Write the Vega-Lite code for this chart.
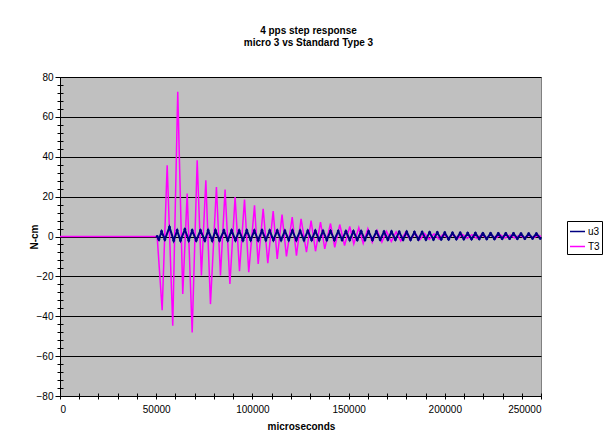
{
  "$schema": "https://vega.github.io/schema/vega-lite/v6.json",
  "width": 481,
  "height": 319,
  "autosize": {"type": "none"},
  "padding": {"left": 60, "top": 77, "right": 68, "bottom": 43},
  "background": "white",
  "title": {"text": ["4 pps step response", "micro 3 vs Standard Type 3"], "fontSize": 10, "fontWeight": "bold", "font": "Liberation Sans", "anchor": "middle", "dx": 8, "offset": 14, "baseline": "bottom", "lineHeight": 12, "color": "black"},
  "config": {
    "font": "Liberation Sans",
    "view": {"fill": "#C0C0C0", "stroke": "#808080"},
    "axis": {"labelFont": "Liberation Sans", "titleFont": "Liberation Sans", "labelFontSize": 10, "titleFontSize": 10, "titleFontWeight": "bold", "labelColor": "black", "titleColor": "black", "domainColor": "black", "tickColor": "black"}
  },
  "data": {"values": [
    {"t": 0, "s": "T3", "v": 0},
    {"t": 50500, "s": "T3", "v": 0},
    {"t": 53100, "s": "T3", "v": -37},
    {"t": 55700, "s": "T3", "v": 35.7},
    {"t": 58600, "s": "T3", "v": -44.8},
    {"t": 61200, "s": "T3", "v": 72.6},
    {"t": 63800, "s": "T3", "v": -28.8},
    {"t": 66100, "s": "T3", "v": 21.5},
    {"t": 68700, "s": "T3", "v": -48.1},
    {"t": 71300, "s": "T3", "v": 38.2},
    {"t": 73500, "s": "T3", "v": -19.6},
    {"t": 75800, "s": "T3", "v": 28.2},
    {"t": 78200, "s": "T3", "v": -33.9},
    {"t": 81300, "s": "T3", "v": 24.8},
    {"t": 83400, "s": "T3", "v": -19.6},
    {"t": 85800, "s": "T3", "v": 23.5},
    {"t": 88300, "s": "T3", "v": -23.8},
    {"t": 91000, "s": "T3", "v": 19.8},
    {"t": 93300, "s": "T3", "v": -17.4},
    {"t": 95900, "s": "T3", "v": 18.5},
    {"t": 98100, "s": "T3", "v": -17.9},
    {"t": 101100, "s": "T3", "v": 15.6},
    {"t": 103000, "s": "T3", "v": -13.8},
    {"t": 105600, "s": "T3", "v": 13.9},
    {"t": 108000, "s": "T3", "v": -13.4},
    {"t": 110800, "s": "T3", "v": 12.7},
    {"t": 112900, "s": "T3", "v": -11.2},
    {"t": 115400, "s": "T3", "v": 11.0},
    {"t": 117700, "s": "T3", "v": -10.0},
    {"t": 120700, "s": "T3", "v": 9.7},
    {"t": 122900, "s": "T3", "v": -9.6},
    {"t": 125300, "s": "T3", "v": 8.9},
    {"t": 128100, "s": "T3", "v": -7.9},
    {"t": 130500, "s": "T3", "v": 8.0},
    {"t": 132800, "s": "T3", "v": -7.4},
    {"t": 135400, "s": "T3", "v": 7.2},
    {"t": 137600, "s": "T3", "v": -6.2},
    {"t": 140600, "s": "T3", "v": 6.5},
    {"t": 142800, "s": "T3", "v": -5.4},
    {"t": 145400, "s": "T3", "v": 6.0},
    {"t": 147900, "s": "T3", "v": -4.5},
    {"t": 150600, "s": "T3", "v": 5.0},
    {"t": 152700, "s": "T3", "v": -3.7},
    {"t": 155300, "s": "T3", "v": 4.4},
    {"t": 157600, "s": "T3", "v": -3.4},
    {"t": 160000, "s": "T3", "v": 3.9},
    {"t": 162300, "s": "T3", "v": -2.9},
    {"t": 164800, "s": "T3", "v": 3.0},
    {"t": 167300, "s": "T3", "v": -2.8},
    {"t": 169700, "s": "T3", "v": 2.6},
    {"t": 172200, "s": "T3", "v": -2.5},
    {"t": 174700, "s": "T3", "v": 2.3},
    {"t": 177100, "s": "T3", "v": -2.2},
    {"t": 179600, "s": "T3", "v": 2.0},
    {"t": 182100, "s": "T3", "v": -1.8},
    {"t": 184500, "s": "T3", "v": 1.7},
    {"t": 187000, "s": "T3", "v": -1.6},
    {"t": 189500, "s": "T3", "v": 1.5},
    {"t": 191900, "s": "T3", "v": -1.4},
    {"t": 194400, "s": "T3", "v": 1.3},
    {"t": 196900, "s": "T3", "v": -1.2},
    {"t": 199300, "s": "T3", "v": 1.2},
    {"t": 201800, "s": "T3", "v": -1.1},
    {"t": 204300, "s": "T3", "v": 1.1},
    {"t": 206700, "s": "T3", "v": -1.0},
    {"t": 209200, "s": "T3", "v": 1.0},
    {"t": 211700, "s": "T3", "v": -0.9},
    {"t": 214100, "s": "T3", "v": 0.9},
    {"t": 216600, "s": "T3", "v": -0.9},
    {"t": 219100, "s": "T3", "v": 0.9},
    {"t": 221500, "s": "T3", "v": -0.8},
    {"t": 224000, "s": "T3", "v": 0.8},
    {"t": 226500, "s": "T3", "v": -0.8},
    {"t": 228900, "s": "T3", "v": 0.8},
    {"t": 231400, "s": "T3", "v": -0.7},
    {"t": 233900, "s": "T3", "v": 0.7},
    {"t": 236300, "s": "T3", "v": -0.7},
    {"t": 238800, "s": "T3", "v": 0.7},
    {"t": 241300, "s": "T3", "v": -0.7},
    {"t": 243700, "s": "T3", "v": 0.6},
    {"t": 246200, "s": "T3", "v": -0.6},
    {"t": 248700, "s": "T3", "v": 0.6},
    {"t": 250000, "s": "T3", "v": 0},
    {"t": 50500, "s": "u3", "v": 0},
    {"t": 51400, "s": "u3", "v": -1.5},
    {"t": 52800, "s": "u3", "v": 2.5},
    {"t": 54500, "s": "u3", "v": -1.5},
    {"t": 56900, "s": "u3", "v": 4.7},
    {"t": 59100, "s": "u3", "v": -2.0},
    {"t": 60900, "s": "u3", "v": 3.0},
    {"t": 62600, "s": "u3", "v": -2.0},
    {"t": 64900, "s": "u3", "v": 3.5},
    {"t": 66900, "s": "u3", "v": -2.0},
    {"t": 68700, "s": "u3", "v": 3.0},
    {"t": 70800, "s": "u3", "v": -2.0},
    {"t": 73000, "s": "u3", "v": 3.0},
    {"t": 75300, "s": "u3", "v": -2.0},
    {"t": 77000, "s": "u3", "v": 3.0},
    {"t": 79100, "s": "u3", "v": -2.0},
    {"t": 80800, "s": "u3", "v": 3.0},
    {"t": 82900, "s": "u3", "v": -2.0},
    {"t": 85200, "s": "u3", "v": 3.0},
    {"t": 87200, "s": "u3", "v": -1.9},
    {"t": 89200, "s": "u3", "v": 3.0},
    {"t": 91200, "s": "u3", "v": -1.9},
    {"t": 93100, "s": "u3", "v": 2.9},
    {"t": 95100, "s": "u3", "v": -1.9},
    {"t": 97100, "s": "u3", "v": 3.0},
    {"t": 99100, "s": "u3", "v": -1.8},
    {"t": 101000, "s": "u3", "v": 2.9},
    {"t": 103000, "s": "u3", "v": -1.9},
    {"t": 105000, "s": "u3", "v": 3.0},
    {"t": 107000, "s": "u3", "v": -1.8},
    {"t": 109000, "s": "u3", "v": 2.9},
    {"t": 110900, "s": "u3", "v": -1.8},
    {"t": 112900, "s": "u3", "v": 2.9},
    {"t": 114900, "s": "u3", "v": -1.8},
    {"t": 116900, "s": "u3", "v": 2.8},
    {"t": 118900, "s": "u3", "v": -1.8},
    {"t": 120800, "s": "u3", "v": 2.9},
    {"t": 122800, "s": "u3", "v": -1.8},
    {"t": 124800, "s": "u3", "v": 2.8},
    {"t": 126800, "s": "u3", "v": -1.8},
    {"t": 128800, "s": "u3", "v": 2.8},
    {"t": 130800, "s": "u3", "v": -1.7},
    {"t": 132700, "s": "u3", "v": 2.8},
    {"t": 134700, "s": "u3", "v": -1.8},
    {"t": 136700, "s": "u3", "v": 2.7},
    {"t": 138700, "s": "u3", "v": -1.7},
    {"t": 140600, "s": "u3", "v": 2.7},
    {"t": 142600, "s": "u3", "v": -1.7},
    {"t": 144600, "s": "u3", "v": 2.7},
    {"t": 146600, "s": "u3", "v": -1.7},
    {"t": 148600, "s": "u3", "v": 2.6},
    {"t": 150600, "s": "u3", "v": -1.7},
    {"t": 152500, "s": "u3", "v": 2.6},
    {"t": 154500, "s": "u3", "v": -1.7},
    {"t": 156500, "s": "u3", "v": 2.6},
    {"t": 158500, "s": "u3", "v": -1.7},
    {"t": 160400, "s": "u3", "v": 2.5},
    {"t": 162400, "s": "u3", "v": -1.7},
    {"t": 164400, "s": "u3", "v": 2.5},
    {"t": 166400, "s": "u3", "v": -1.6},
    {"t": 168400, "s": "u3", "v": 2.4},
    {"t": 170400, "s": "u3", "v": -1.6},
    {"t": 172300, "s": "u3", "v": 2.4},
    {"t": 174300, "s": "u3", "v": -1.6},
    {"t": 176300, "s": "u3", "v": 2.3},
    {"t": 178300, "s": "u3", "v": -1.6},
    {"t": 180200, "s": "u3", "v": 2.3},
    {"t": 182200, "s": "u3", "v": -1.6},
    {"t": 184200, "s": "u3", "v": 2.2},
    {"t": 186200, "s": "u3", "v": -1.5},
    {"t": 188200, "s": "u3", "v": 2.2},
    {"t": 190200, "s": "u3", "v": -1.5},
    {"t": 192100, "s": "u3", "v": 2.1},
    {"t": 194100, "s": "u3", "v": -1.5},
    {"t": 196100, "s": "u3", "v": 2.0},
    {"t": 198100, "s": "u3", "v": -1.4},
    {"t": 200000, "s": "u3", "v": 1.9},
    {"t": 202000, "s": "u3", "v": -1.4},
    {"t": 204000, "s": "u3", "v": 1.8},
    {"t": 206000, "s": "u3", "v": -1.3},
    {"t": 208000, "s": "u3", "v": 1.8},
    {"t": 209900, "s": "u3", "v": -1.3},
    {"t": 211900, "s": "u3", "v": 1.7},
    {"t": 213900, "s": "u3", "v": -1.3},
    {"t": 215900, "s": "u3", "v": 1.7},
    {"t": 217900, "s": "u3", "v": -1.2},
    {"t": 219800, "s": "u3", "v": 1.6},
    {"t": 221800, "s": "u3", "v": -1.2},
    {"t": 223800, "s": "u3", "v": 1.6},
    {"t": 225800, "s": "u3", "v": -1.2},
    {"t": 227800, "s": "u3", "v": 1.5},
    {"t": 229800, "s": "u3", "v": -1.1},
    {"t": 231700, "s": "u3", "v": 1.5},
    {"t": 233700, "s": "u3", "v": -1.1},
    {"t": 235700, "s": "u3", "v": 1.5},
    {"t": 237700, "s": "u3", "v": -1.1},
    {"t": 239600, "s": "u3", "v": 1.4},
    {"t": 241600, "s": "u3", "v": -1.1},
    {"t": 243600, "s": "u3", "v": 1.4},
    {"t": 245600, "s": "u3", "v": -1.0},
    {"t": 247600, "s": "u3", "v": 1.4},
    {"t": 249600, "s": "u3", "v": -1.0}
  ]},
  "layer": [
    {
      "transform": [{"filter": "datum.s === 'T3'"}],
      "mark": {"type": "line", "strokeWidth": 1.5},
      "encoding": {
        "x": {"field": "t", "type": "quantitative", "scale": {"domain": [0, 250000], "nice": false, "zero": false},
          "axis": {"orient": "bottom", "values": [0,10000,20000,30000,40000,50000,60000,70000,80000,90000,100000,110000,120000,130000,140000,150000,160000,170000,180000,190000,200000,210000,220000,230000,240000,250000],
            "format": "d", "labelExpr": "datum.value % 50000 === 0 ? datum.label : ''", "tickSize": 3, "labelPadding": 5, "grid": false,
            "title": "microseconds", "titleX": 241, "titleY": 30, "titleBaseline": "middle", "titleAlign": "center"}},
        "y": {"field": "v", "type": "quantitative", "scale": {"domain": [-80, 80], "nice": false, "zero": false},
          "axis": {"orient": "left", "values": [-80,-60,-40,-20,0,20,40,60,80], "grid": true, "gridColor": "black", "gridOpacity": 1, "gridWidth": 1,
            "tickSize": 5, "labelPadding": 2, "title": "N-cm", "titleX": -26, "titleY": 159.5, "titleAngle": 270, "titleAlign": "center", "titleBaseline": "middle"}},
        "color": {"field": "s", "type": "nominal", "scale": {"domain": ["u3", "T3"], "range": ["#000080", "#FF00FF"]},
          "legend": {"orient": "none", "legendX": 507, "legendY": 144, "title": null, "strokeColor": "black", "fillColor": "white", "padding": 2,
            "symbolType": "stroke", "symbolSize": 225, "symbolStrokeWidth": 1.5, "labelFontSize": 10, "labelColor": "black", "labelFont": "Liberation Sans", "rowPadding": 1, "labelOffset": 2}}
      }
    },
    {
      "transform": [{"filter": "datum.s === 'u3'"}],
      "mark": {"type": "line", "strokeWidth": 2},
      "encoding": {
        "x": {"field": "t", "type": "quantitative",
          "axis": {"orient": "bottom", "values": [0,10000,20000,30000,40000,50000,60000,70000,80000,90000,100000,110000,120000,130000,140000,150000,160000,170000,180000,190000,200000,210000,220000,230000,240000,250000],
            "labels": false, "domain": false, "grid": false, "tickSize": -3, "title": null}},
        "y": {"field": "v", "type": "quantitative",
          "axis": {"orient": "left", "values": [-80,-76,-72,-68,-64,-60,-56,-52,-48,-44,-40,-36,-32,-28,-24,-20,-16,-12,-8,-4,0,4,8,12,16,20,24,28,32,36,40,44,48,52,56,60,64,68,72,76,80],
            "labels": false, "domain": false, "grid": false, "tickSize": 3, "title": null}},
        "color": {"field": "s", "type": "nominal"}
      }
    },
    {
      "transform": [{"filter": "datum.s === 'u3'"}],
      "mark": {"type": "point", "filled": true, "size": 8, "opacity": 1},
      "encoding": {
        "x": {"field": "t", "type": "quantitative", "axis": null},
        "y": {"field": "v", "type": "quantitative",
          "axis": {"orient": "left", "values": [-80,-76,-72,-68,-64,-60,-56,-52,-48,-44,-40,-36,-32,-28,-24,-20,-16,-12,-8,-4,0,4,8,12,16,20,24,28,32,36,40,44,48,52,56,60,64,68,72,76,80],
            "labels": false, "domain": false, "grid": false, "tickSize": -3, "title": null}},
        "color": {"field": "s", "type": "nominal"}
      }
    }
  ],
  "resolve": {"axis": {"x": "independent", "y": "independent"}}
}
